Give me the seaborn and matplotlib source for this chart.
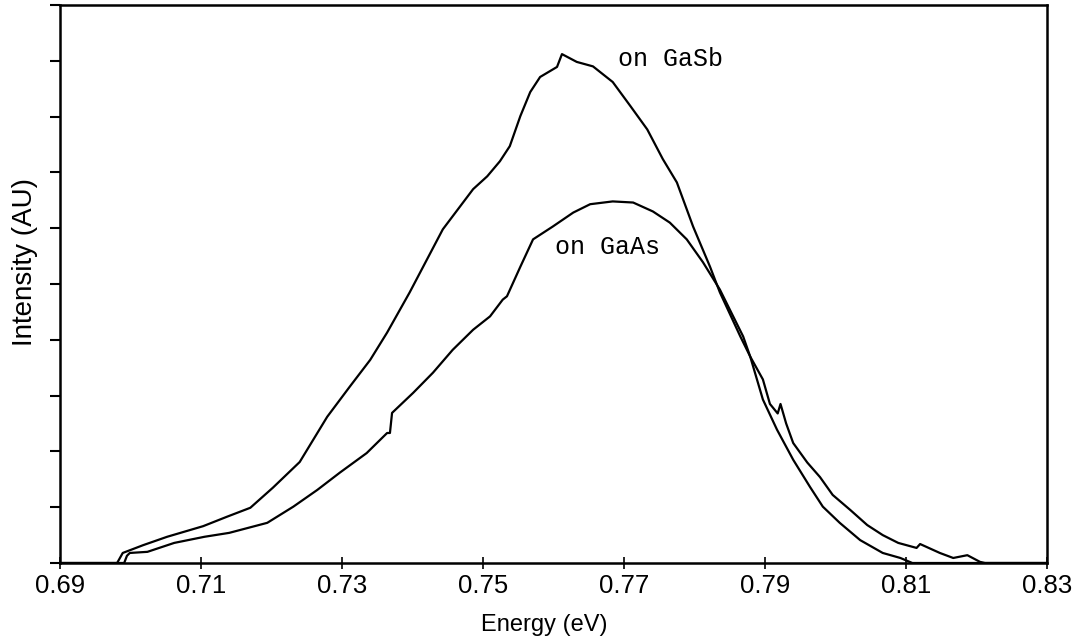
import numpy as np
import pandas as pd
import matplotlib
matplotlib.use("Agg")
import matplotlib.pyplot as plt
import seaborn as sns

# ---- data ----
energy_gasb = [0.6900, 0.6981, 0.6989, 0.7018, 0.7052, 0.7103, 0.7137, 0.7170, 0.7202,
               0.7240, 0.7279, 0.7311, 0.7340, 0.7364, 0.7396, 0.7443, 0.7486, 0.7506,
               0.7524, 0.7538, 0.7553, 0.7567, 0.7581, 0.7605, 0.7612, 0.7633, 0.7656,
               0.7684, 0.7709, 0.7733, 0.7755, 0.7775, 0.7798, 0.7822, 0.7836, 0.7865,
               0.7879, 0.7897, 0.7907, 0.7918, 0.7922, 0.7930, 0.7940, 0.7960, 0.7978,
               0.7996, 0.8021, 0.8045, 0.8067, 0.8089, 0.8115, 0.8120, 0.8148, 0.8167,
               0.8187, 0.8205, 0.8212, 0.8300]
intensity_gasb = [0.00, 0.00, 0.18, 0.32, 0.47, 0.66, 0.83, 0.99, 1.35,
                  1.81, 2.62, 3.16, 3.64, 4.13, 4.85, 5.98, 6.70, 6.93,
                  7.20, 7.47, 8.01, 8.44, 8.71, 8.89, 9.12, 8.98, 8.90,
                  8.62, 8.19, 7.77, 7.24, 6.82, 6.03, 5.31, 4.85, 4.06,
                  3.70, 3.29, 2.85, 2.68, 2.85, 2.50, 2.15, 1.80, 1.54,
                  1.22, 0.95, 0.68, 0.50, 0.36, 0.27, 0.34, 0.18, 0.09,
                  0.14, 0.02, 0.00, 0.00]

energy_gaas = [0.6900, 0.6991, 0.6995, 0.6999, 0.7024, 0.7062, 0.7105, 0.7140, 0.7194,
               0.7231, 0.7265, 0.7297, 0.7335, 0.7364, 0.7368, 0.7371, 0.7401, 0.7429,
               0.7457, 0.7486, 0.7510, 0.7528, 0.7534, 0.7553, 0.7571, 0.7599, 0.7628,
               0.7652, 0.7684, 0.7713, 0.7741, 0.7765, 0.7789, 0.7812, 0.7836, 0.7869,
               0.7879, 0.7897, 0.7917, 0.7940, 0.7964, 0.7982, 0.8006, 0.8035, 0.8067,
               0.8092, 0.8109, 0.8300]
intensity_gaas = [0.00, 0.00, 0.13, 0.18, 0.20, 0.36, 0.47, 0.54, 0.72,
                  1.01, 1.31, 1.62, 1.97, 2.33, 2.33, 2.69, 3.05, 3.41,
                  3.82, 4.18, 4.42, 4.72, 4.78, 5.31, 5.80, 6.03, 6.28,
                  6.43, 6.48, 6.46, 6.30, 6.10, 5.80, 5.39, 4.90, 4.06,
                  3.70, 2.93, 2.39, 1.85, 1.36, 1.01, 0.72, 0.41, 0.18,
                  0.09, 0.00, 0.00]

x_ticks = [0.69, 0.71, 0.73, 0.75, 0.77, 0.79, 0.81, 0.83]
y_ticks = list(range(0, 11))
labels = ["on GaSb", "on GaAs"]

df = pd.concat([
    pd.DataFrame({"Energy": energy_gasb, "Intensity": intensity_gasb, "Sample": labels[0]}),
    pd.DataFrame({"Energy": energy_gaas, "Intensity": intensity_gaas, "Sample": labels[1]}),
], ignore_index=True)

sns.set_style("ticks")
plt.rcParams["font.family"] = ["Liberation Sans", "DejaVu Sans"]
plt.rcParams["text.color"] = "black"
plt.rcParams["axes.labelcolor"] = "black"
plt.rcParams["xtick.color"] = "black"
plt.rcParams["ytick.color"] = "black"

fig = plt.figure(figsize=(10.84, 6.43), dpi=100)
ax = fig.add_axes([60 / 1084, 80 / 643, 987 / 1084, 558 / 643])

sns.lineplot(data=df, x="Energy", y="Intensity", hue="Sample", units="Sample",
             estimator=None, sort=False, palette=["black", "black"],
             linewidth=1.6, legend=False, ax=ax)

ax.set_xlim(0.69, 0.83)
ax.set_ylim(0, 10)
ax.set_xticks(x_ticks)
ax.set_xticklabels([f"{v:.2f}" for v in x_ticks])
ax.set_yticks(y_ticks)
ax.set_yticklabels([])
ax.tick_params(axis="x", direction="inout", length=8, width=1.2, labelsize=18.5, pad=4,
               colors="black", labelcolor="black")
ax.tick_params(axis="y", direction="out", length=7, width=1.5, colors="black")
for s in ax.spines.values():
    s.set_visible(True)
    s.set_linewidth(1.8)
    s.set_color("black")

ax.set_xlabel("Energy (eV)", fontsize=17, color="black")
ax.set_ylabel("Intensity (AU)", fontsize=20, color="black")
ax.xaxis.set_label_coords(0.491, -0.092)
ax.yaxis.set_label_coords(-0.022, 0.539)

ax.text(0.7692, 9.03, labels[0], family=["Liberation Mono", "DejaVu Sans Mono"],
        fontsize=18, va="center", ha="left", color="black")
ax.text(0.7602, 5.66, labels[1], family=["Liberation Mono", "DejaVu Sans Mono"],
        fontsize=18, va="center", ha="left", color="black")

fig.savefig("out.png", dpi=100, facecolor="white")
